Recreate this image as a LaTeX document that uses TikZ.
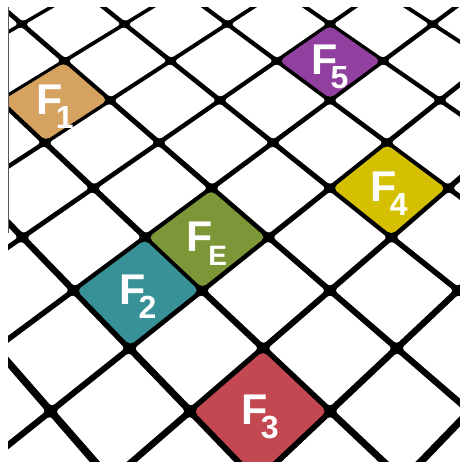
\documentclass[tikz,border=0pt]{standalone}
\usepackage{fontspec}
\setmainfont{Liberation Sans}
\definecolor{cF1}{HTML}{D5A35F}
\definecolor{cF5}{HTML}{9240A0}
\definecolor{cF4}{HTML}{D4C000}
\definecolor{cFE}{HTML}{7D9637}
\definecolor{cF2}{HTML}{379196}
\definecolor{cF3}{HTML}{C44852}
\tikzset{
  declare function={
    gd(\p,\q)=3.026-0.1*(\p+\q);
    gx(\p,\q)=33+15.54*(\p-\q)/gd(\p,\q);
    gy(\p,\q)=151.5-325.93/gd(\p,\q);
  },
  cellfill/.style={fill=white, rounded corners=3pt},
  tilefill/.style={rounded corners=5pt},
  lab/.style={text=white, inner sep=0pt, anchor=center, yshift=-6pt,
    font=\bfseries\fontsize{43}{43}\selectfont},
  edge/.style={draw=gray!70!black, line width=0.8pt}
}
\begin{document}
\begin{tikzpicture}[x=10pt,y=10pt]
\useasboundingbox (0,0) rectangle (46,46.2);
\begin{scope}
\clip (0.8,0) rectangle (46,45.5);
\fill[black] (0.8,0) rectangle (46,45.5);
\foreach \p in {-5,...,6}{
  \foreach \q in {-3,...,8}{
    \path[cellfill]
      ({gx(\p+0.037,\q+0.037)},{gy(\p+0.037,\q+0.037)}) --
      ({gx(\p+0.963,\q+0.037)},{gy(\p+0.963,\q+0.037)}) --
      ({gx(\p+0.963,\q+0.963)},{gy(\p+0.963,\q+0.963)}) --
      ({gx(\p+0.037,\q+0.963)},{gy(\p+0.037,\q+0.963)}) -- cycle;
  }
}
\foreach \p/\q/\c in {-2/3/cF1, 0/0/cF5, 2/1/cF4, 1/3/cFE, 1/4/cF2, 3/4/cF3}{
  \path[tilefill, fill=\c]
    ({gx(\p+0.024,\q+0.024)},{gy(\p+0.024,\q+0.024)}) --
    ({gx(\p+0.976,\q+0.024)},{gy(\p+0.976,\q+0.024)}) --
    ({gx(\p+0.976,\q+0.976)},{gy(\p+0.976,\q+0.976)}) --
    ({gx(\p+0.024,\q+0.976)},{gy(\p+0.024,\q+0.976)}) -- cycle;
}
\end{scope}
\foreach \p/\q/\s in {-2/3/1, 0/0/5, 2/1/4, 1/4/2, 3/4/3}{
  \node[lab] (lab\s) at ({gx(\p+0.5,\q+0.5)},{gy(\p+0.5,\q+0.5)})
    {F\kern-7pt\raisebox{-14pt}{\fontsize{32}{32}\selectfont\s}};
}
\node[lab] (labE) at ({gx(1.5,3.5)},{gy(1.5,3.5)})
  {F\kern-5pt\raisebox{-14pt}{\fontsize{28}{28}\selectfont E}};
\coordinate (et) at (0.8,45.5);
\coordinate (eb) at (0.8,22.9);
\draw[edge] (et) -- (eb);
\end{tikzpicture}
\end{document}
